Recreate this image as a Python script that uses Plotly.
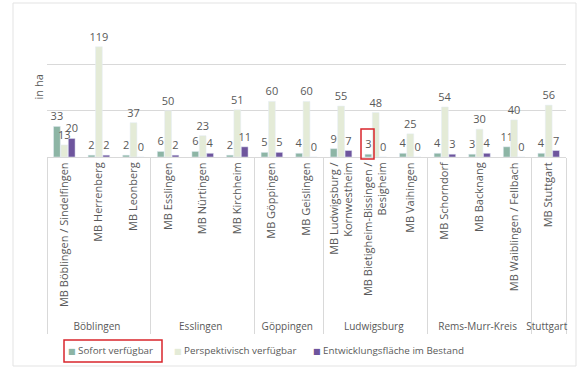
import plotly.graph_objects as go

groups = ["Böblingen", "Böblingen", "Böblingen",
          "Esslingen", "Esslingen", "Esslingen",
          "Göppingen", "Göppingen",
          "Ludwigsburg", "Ludwigsburg", "Ludwigsburg",
          "Rems-Murr-Kreis", "Rems-Murr-Kreis", "Rems-Murr-Kreis",
          "Stuttgart"]
regions = ["MB Böblingen / Sindelfingen", "MB Herrenberg", "MB Leonberg",
           "MB Esslingen", "MB Nürtingen", "MB Kirchheim",
           "MB Göppingen", "MB Geislingen",
           "MB Ludwigsburg /<br>Kornwestheim", "MB Bietigheim-Bissingen /<br>Besigheim", "MB Vaihingen",
           "MB Schorndorf", "MB Backnang", "MB Waiblingen / Fellbach",
           "MB Stuttgart"]
sofort = [33, 2, 2, 6, 6, 2, 5, 4, 9, 3, 4, 4, 3, 11, 4]
perspektivisch = [13, 119, 37, 50, 23, 51, 60, 60, 55, 48, 25, 54, 30, 40, 56]
bestand = [20, 2, 0, 2, 4, 11, 5, 0, 7, 0, 0, 3, 4, 0, 7]

series_names = ["Sofort verfügbar", "Perspektivisch verfügbar", "Entwicklungsfläche im Bestand"]
colors = ["#8db5a5", "#e4ebd7", "#6e559d"]

FONT = "Open Sans"
GRAY = "#595959"

L, R, T, B = 47, 18, 18, 210
pw = 584 - L - R
ph = 367 - T - B

def px(x):
    return (x - L) / pw

def py(y):
    return (367 - B - y) / ph

group_labels = [f"<span style='font-size:10px'>{g}</span>" for g in groups]

legend_ids = ["legend", "legend2", "legend3"]
legend_x = [28, 134, 273]

fig = go.Figure()
for name, vals, col, lid in zip(series_names, [sofort, perspektivisch, bestand], colors, legend_ids):
    fig.add_trace(go.Bar(
        x=[group_labels, regions], y=vals, name=name, marker_color=col,
        text=vals, textposition="outside", constraintext="none", cliponaxis=False,
        textfont=dict(family=FONT, size=11, color=GRAY),
        showlegend=False,
    ))
    fig.add_trace(go.Scatter(
        x=[None], y=[None], mode="markers", legend=lid,
        name=f"<span style='font-family:DejaVu Sans;font-size:8px;color:{col}'>■</span> {name}",
        marker=dict(symbol="square", size=1, color="rgba(0,0,0,0)"),
    ))

legend_common = dict(orientation="h", xanchor="left", y=py(350), yanchor="middle",
                     font=dict(family=FONT, size=9.8, color=GRAY), itemwidth=30,
                     bgcolor="rgba(0,0,0,0)")

fig.update_layout(
    width=584, height=367,
    margin=dict(l=L, r=R, t=T, b=B, autoexpand=False),
    paper_bgcolor="white", plot_bgcolor="white",
    barmode="group", bargap=0.36, bargroupgap=0.08,
    font=dict(family=FONT, color=GRAY),
    legend=dict(x=px(legend_x[0]), **legend_common),
    legend2=dict(x=px(legend_x[1]), **legend_common),
    legend3=dict(x=px(legend_x[2]), **legend_common),
    xaxis=dict(type="multicategory", tickangle=-90, tickfont=dict(family=FONT, size=11, color=GRAY),
               showline=True, linecolor="#d9d9d9", linewidth=1, ticks="",
               showdividers=True, dividercolor="#d9d9d9", dividerwidth=1, automargin=False),
    yaxis=dict(range=[0, 150], dtick=50, showgrid=True, gridcolor="#d9d9d9", gridwidth=1,
               showticklabels=False, zeroline=False, showline=False, automargin=False),
    annotations=[
        dict(text="in ha", xref="paper", yref="paper", x=px(38), y=py(87.5),
             xanchor="center", yanchor="middle", textangle=-90, showarrow=False,
             font=dict(family=FONT, size=11, color=GRAY)),
    ],
    shapes=[
        dict(type="rect", xref="paper", yref="paper", x0=px(13), x1=px(576), y0=py(366), y1=py(3),
             line=dict(color="#e3e3e3", width=1), layer="below"),
        dict(type="rect", xref="paper", yref="paper", x0=px(64), x1=px(162), y0=py(362), y1=py(340),
             line=dict(color="#d9262c", width=1.5)),
        dict(type="rect", xref="paper", yref="paper", x0=px(361), x1=px(374), y0=py(159), y1=py(129),
             line=dict(color="#d9262c", width=1.5)),
    ],
)

fig.write_html("out.html")
